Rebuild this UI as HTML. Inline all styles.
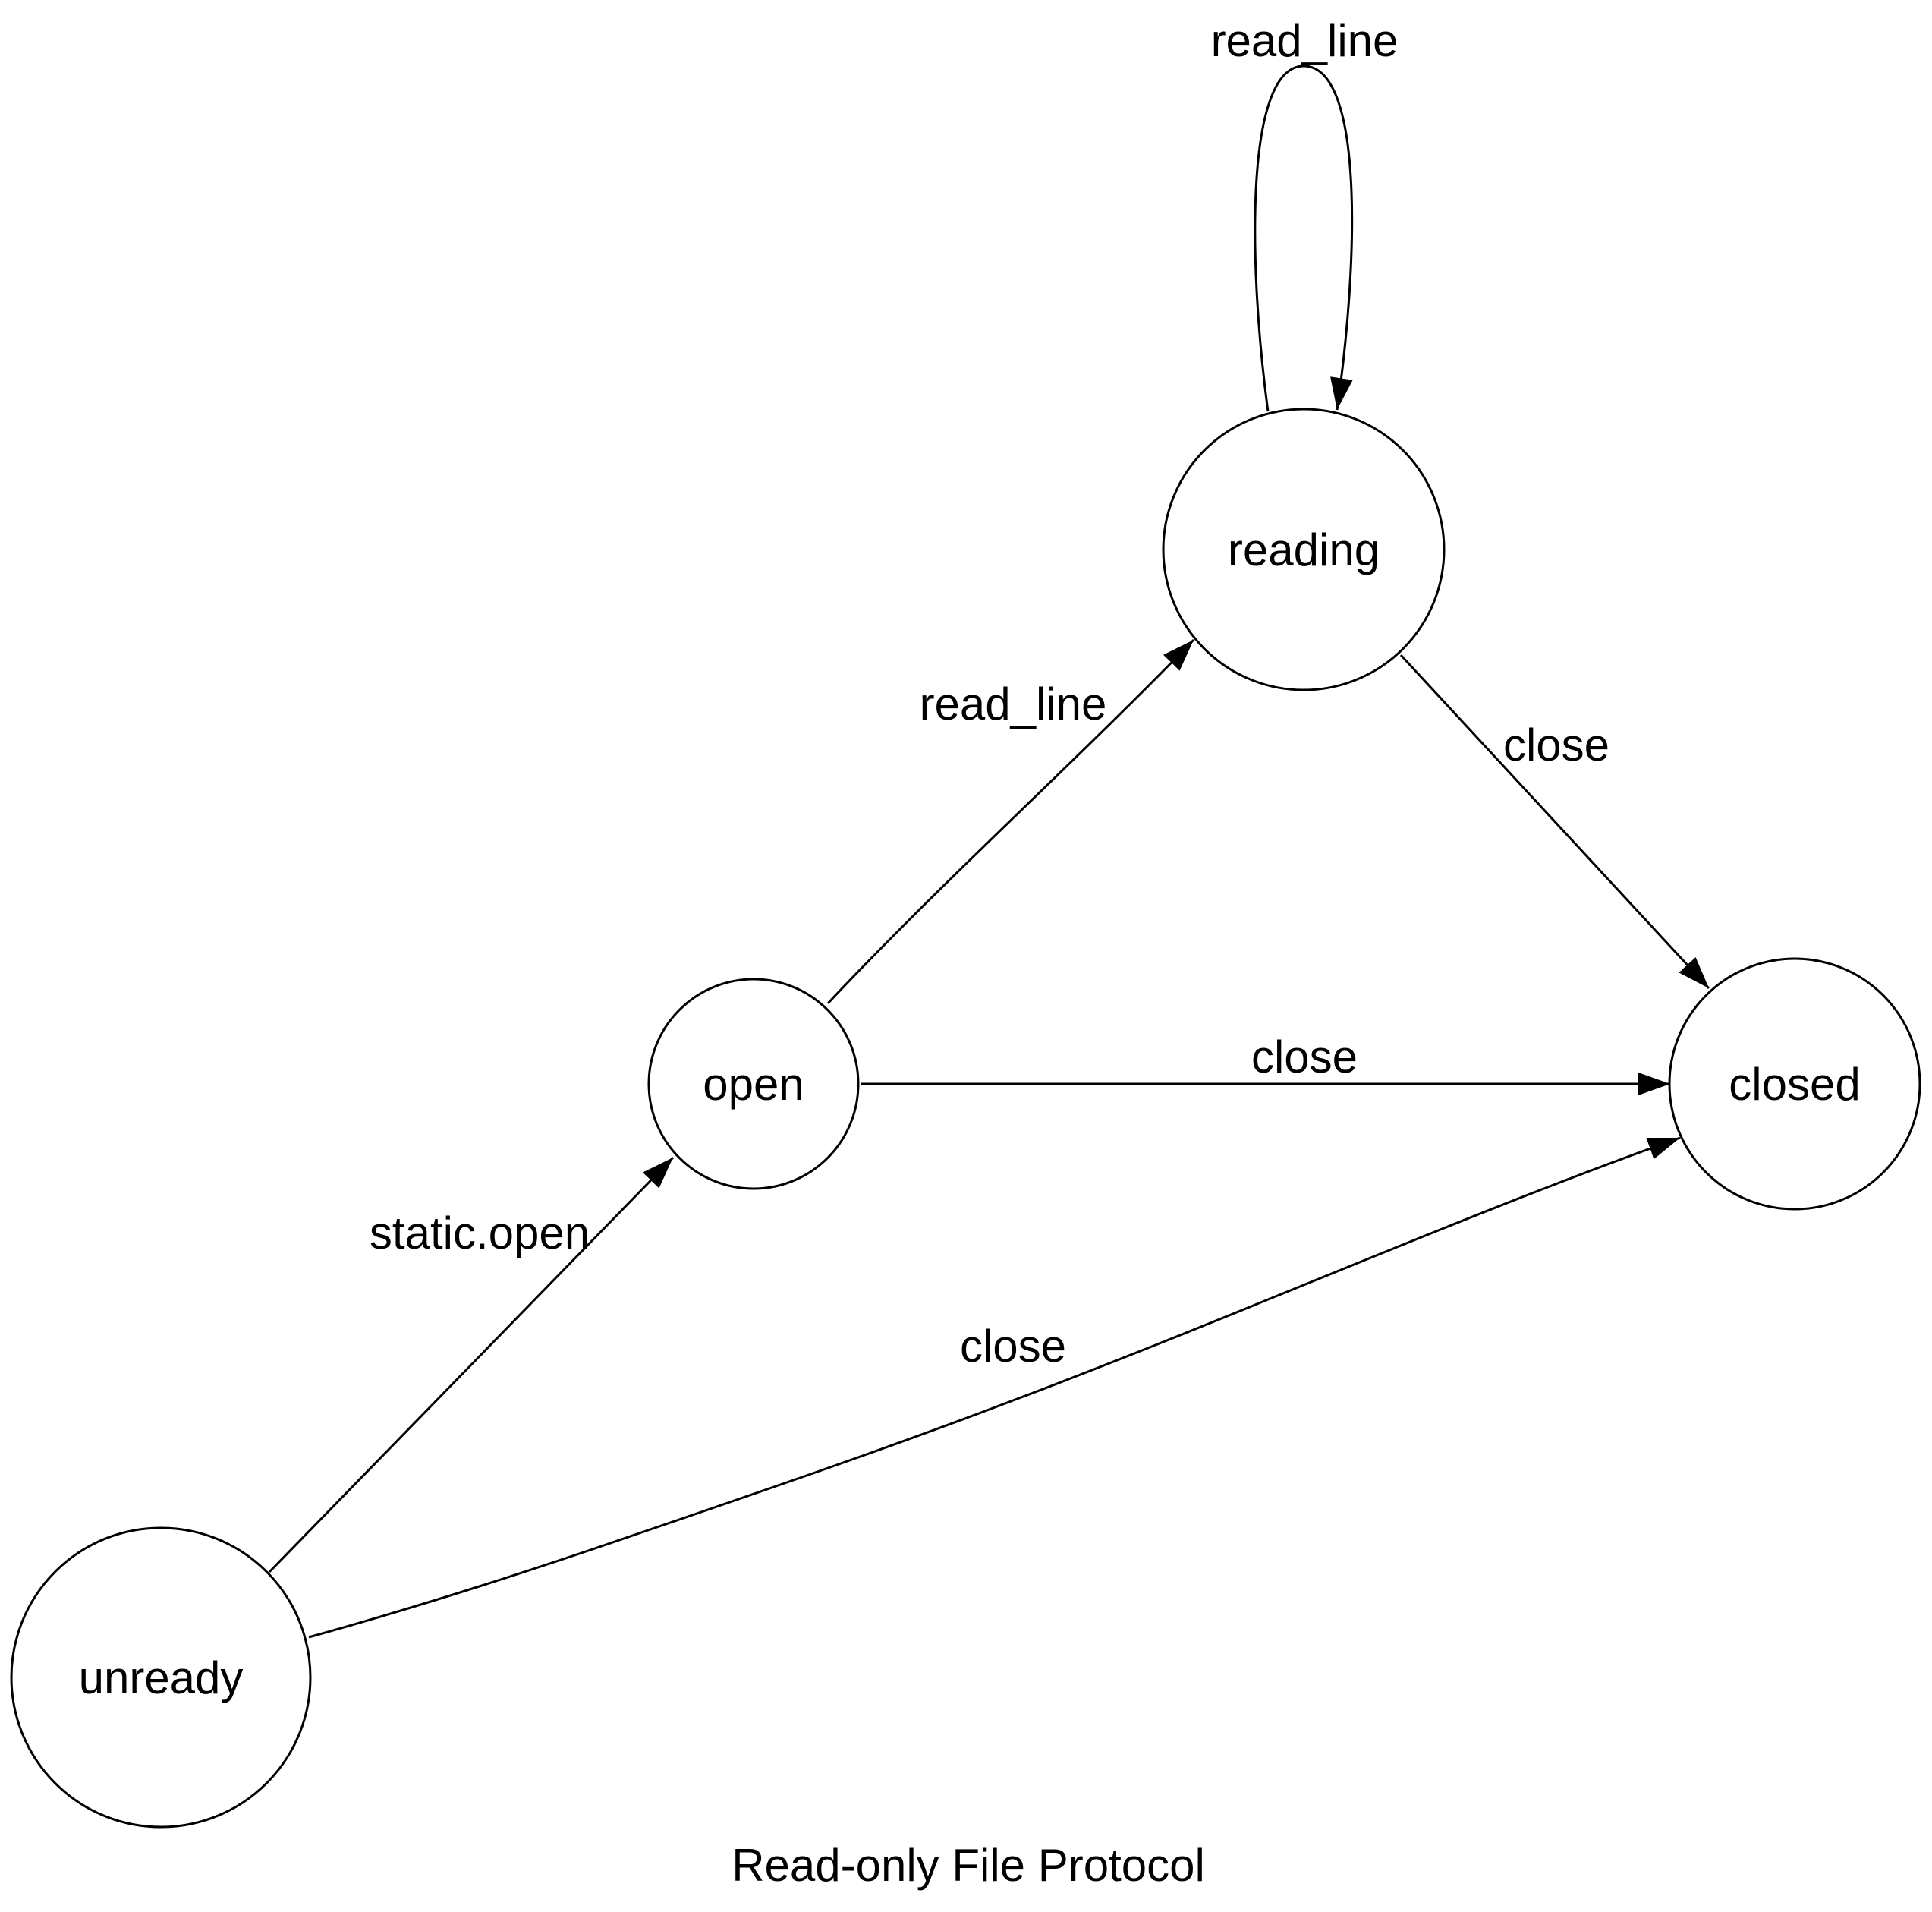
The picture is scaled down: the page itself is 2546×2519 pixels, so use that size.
<!DOCTYPE html>
<html><head><meta charset="utf-8"><style>
html,body{margin:0;padding:0;background:#fff;}
svg{display:block;}
text{font-family:"Liberation Sans",Arial,sans-serif;font-size:60px;fill:#000;}
</style></head><body>
<svg width="2546" height="2519" viewBox="0 0 2546 2519" xmlns="http://www.w3.org/2000/svg">
<defs>
<marker id="a" markerUnits="userSpaceOnUse" markerWidth="46" markerHeight="34" refX="42" refY="15" orient="auto">
<path d="M0,0 L42,15 L0,30 Z" fill="#000"/>
</marker>
</defs>
<g fill="none" stroke="#000" stroke-width="3">
<circle cx="1718" cy="724" r="185"/>
<circle cx="993" cy="1428" r="138"/>
<circle cx="2365" cy="1428" r="165"/>
<circle cx="212" cy="2210" r="197"/>
<path d="M1671,542 C1645,350 1640,87 1718,87 C1795,87 1792,330 1762,540" marker-end="url(#a)"/>
<path d="M1091,1322 C1130,1280 1170,1240 1205,1205 C1320,1090 1450,970 1573,843" marker-end="url(#a)"/>
<path d="M1846,863 L2252,1302" marker-end="url(#a)"/>
<path d="M1135,1428 L2201,1428" marker-end="url(#a)"/>
<path d="M355,2071 L887,1525" marker-end="url(#a)"/>
<path d="M407,2157 C540,2120 660,2082 781,2041 C980,1973 1165,1910 1335,1845 C1640,1730 1930,1600 2214,1499" marker-end="url(#a)"/>
</g>
<g text-anchor="middle">
<text x="1718" y="724" dy="21">reading</text>
<text x="993" y="1428" dy="21">open</text>
<text x="2365" y="1428" dy="21">closed</text>
<text x="212" y="2210" dy="21">unready</text>
<text x="1719" y="74">read_line</text>
<text x="1335" y="948">read_line</text>
<text x="2051" y="1002">close</text>
<text x="1719" y="1413">close</text>
<text x="632" y="1645">static.open</text>
<text x="1335" y="1794">close</text>
<text x="1276" y="2478">Read-only File Protocol</text>
</g>
</svg>
</body></html>
